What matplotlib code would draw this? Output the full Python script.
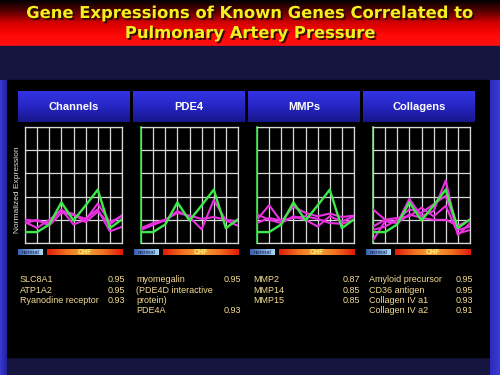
"""
Slide recreation: gene expression of known genes vs pulmonary artery pressure.
Four small panels (Channels, PDE4, MMPs, Collagens), green = PAP profile,
magenta = correlated genes. Layout is done in pixel units of a 500x375 slide.
"""

import matplotlib.pyplot as plt
import matplotlib.patheffects as pe
import numpy as np
from matplotlib.colors import LinearSegmentedColormap

W, H = 500, 375

# ---- data (normalized expression, 9 samples: 2 normal + 7 CHF) ----
samples = list(range(9))
pap = [0.47, 0.47, 0.8, 1.75, 0.97, 1.62, 2.3, 0.64, 1.02]

channels_genes = [
    [1.0, 0.95, 0.85, 1.45, 0.8, 1.0, 1.7, 0.9, 1.15],
    [0.85, 1.0, 0.75, 1.3, 1.2, 1.05, 1.45, 0.5, 0.7],
    [0.9, 0.65, 1.0, 1.4, 1.25, 0.9, 1.35, 0.8, 1.2],
]
pde4_genes = [
    [0.56, 0.78, 0.98, 1.38, 1.12, 0.59, 1.85, 0.98, 0.74],
    [0.64, 0.86, 1.0, 1.3, 1.18, 1.04, 1.12, 1.0, 0.93],
]
mmp_genes = [
    [1.0, 1.63, 0.93, 1.57, 1.3, 1.15, 1.27, 1.12, 1.18],
    [1.23, 1.0, 0.86, 1.15, 1.0, 0.71, 1.15, 0.93, 1.15],
    [0.86, 1.08, 0.97, 1.08, 1.15, 1.04, 0.86, 0.83, 1.0],
]
collagen_genes = [
    [1.45, 1.0, 0.86, 1.9, 1.15, 1.38, 2.7, 0.34, 0.86],
    [0.56, 0.71, 1.0, 1.45, 1.3, 1.67, 2.04, 0.56, 0.71],
    [0.12, 0.93, 0.86, 1.23, 1.08, 1.0, 1.0, 0.74, 1.0],
    [0.71, 1.0, 1.08, 1.15, 1.52, 1.15, 1.6, 0.41, 0.56],
]

panel_titles = ["Channels", "PDE4", "MMPs", "Collagens"]
panel_data = [channels_genes, pde4_genes, mmp_genes, collagen_genes]

title_lines = ["Gene Expressions of Known Genes Correlated to",
               "Pulmonary Artery Pressure"]

names_channels = ["SLC8A1", "ATP1A2", "Ryanodine receptor"]
corr_channels = ["0.95", "0.95", "0.93"]
names_pde4 = ["myomegalin", "(PDE4D interactive", "protein)", "PDE4A"]
corr_pde4 = ["0.95", "", "", "0.93"]
names_mmp = ["MMP2", "MMP14", "MMP15"]
corr_mmp = ["0.87", "0.85", "0.85"]
names_collagen = ["Amyloid precursor", "CD36 antigen", "Collagen IV a1", "Collagen IV a2"]
corr_collagen = ["0.95", "0.95", "0.93", "0.91"]

GREEN = "#3ee84a"
MAGENTA = "#e832e0"
TEXT = "#f4dc90"
GRID = "#d8d8d8"


def px(x0, y0, w, h):
    return [x0 / W, 1 - (y0 + h) / H, w / W, h / H]


def gradient(ax, x0, y0, x1, y1, colors, vertical=False, z=1):
    cmap = LinearSegmentedColormap.from_list("g", colors)
    g = np.linspace(0, 1, 256)
    img = g[:, None] if vertical else g[None, :]
    ax.imshow(img, cmap=cmap, extent=(x0, x1, y1, y0), aspect="auto",
              interpolation="bicubic", zorder=z)


fig = plt.figure(figsize=(5, 3.75), dpi=100)
fig.patch.set_facecolor("#15153f")

bg = fig.add_axes([0, 0, 1, 1])
bg.set_xlim(0, W)
bg.set_ylim(H, 0)
bg.axis("off")

# title banner: black -> red
gradient(bg, 0, 0, W, 46, ["#000000", "#5a0000", "#d40000", "#ff0808", "#ff1010"],
         vertical=True)
bg.add_patch(plt.Rectangle((0, 46), W, 34, color="#15153f", zorder=1))
bg.add_patch(plt.Rectangle((7, 80), 483, 277, color="#000000", zorder=1))
gradient(bg, 0, 80, 7, H, ["#3a3ad8", "#22229a"], vertical=False)
gradient(bg, 490, 80, W, H, ["#2a2ab8", "#3c3cdc"], vertical=False)

shadow = [pe.SimplePatchShadow(offset=(1.3, -1.3), shadow_rgbFace="#200800", alpha=0.9),
          pe.Normal()]
for i, line in enumerate(title_lines):
    bg.text(W / 2, 13.5 + i * 20, line, ha="center", va="center", fontsize=11.8,
            fontweight="bold", color="#f4f020", family="DejaVu Sans",
            path_effects=shadow, zorder=5)

axes_left = [25, 141, 257, 373]
header_left = [18, 133, 248, 363]

for k, (title, genes) in enumerate(zip(panel_titles, panel_data)):
    # header box
    hx = header_left[k]
    gradient(bg, hx, 91, hx + 112, 122, ["#3434e6", "#2626c4", "#16168a"], vertical=True, z=2)
    bg.text(hx + 56, 107, title, ha="center", va="center", fontsize=8,
            color="white", family="Liberation Sans", fontweight="bold", zorder=3)

    # normal / CHF bars
    ax0 = axes_left[k]
    gradient(bg, ax0 - 7, 249, ax0 + 18, 255, ["#3860b0", "#a8d8f4"], z=2)
    bg.text(ax0 + 5.5, 252, "normal", ha="center", va="center", fontsize=4.2,
            color="#101850", family="Liberation Sans", zorder=3)
    gradient(bg, ax0 + 22, 249, ax0 + 98, 255,
             ["#e01808", "#f07020", "#f4a838", "#f07020", "#e01808"], z=2)
    bg.text(ax0 + 60, 252, "CHF", ha="center", va="center", fontsize=5,
            color="#fff080", family="Liberation Sans", fontweight="bold", zorder=3)

    ax = fig.add_axes(px(ax0, 127, 97, 116))
    ax.set_facecolor("black")
    ax.set_xlim(0, 8)
    ax.set_ylim(0, 5)
    ax.set_xticks(samples)
    ax.set_yticks(range(6))
    ax.grid(True, color=GRID, linewidth=0.9)
    ax.tick_params(length=0, labelbottom=False, labelleft=False)
    for s in ax.spines.values():
        s.set_color(GRID)
        s.set_linewidth(0.9)
    if k > 0:
        ax.spines["left"].set_color("#8ee08a" if k == 3 else GREEN)
        ax.spines["left"].set_linewidth(1.2)
    for g in genes:
        ax.plot(samples, g, color=MAGENTA, linewidth=1.5, zorder=3)
    ax.plot(samples, pap, color=GREEN, linewidth=1.7, zorder=4)

bg.text(18, 190, "Normalized Expression", rotation=90, ha="center", va="center",
        fontsize=6, color="#e0e0e0", family="Liberation Sans", zorder=3)

# gene list with correlations
row_y = [280, 290.3, 300.6, 310.9]
columns = [
    (20, 125, names_channels, corr_channels),
    (136, 241, names_pde4, corr_pde4),
    (253, 360, names_mmp, corr_mmp),
    (369, 473, names_collagen, corr_collagen),
]
for xn, xv, names, corrs in columns:
    for y, name, c in zip(row_y, names, corrs):
        bg.text(xn, y, name, ha="left", va="center", fontsize=6.5, color=TEXT,
                family="Liberation Sans", zorder=3)
        if c:
            bg.text(xv, y, c, ha="right", va="center", fontsize=6.5, color=TEXT,
                    family="Liberation Sans", zorder=3)

fig.savefig("out.png", dpi=100, facecolor=fig.get_facecolor())
